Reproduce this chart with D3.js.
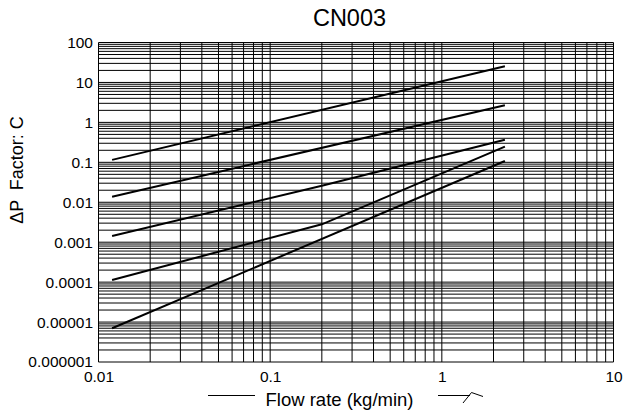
<!DOCTYPE html>
<html>
<head>
<meta charset="utf-8">
<script src="https://cdn.jsdelivr.net/npm/d3@7"></script>
<style>
  html, body { margin: 0; padding: 0; background: #fff; }
  svg { display: block; font-family: "Liberation Sans", Arial, sans-serif; }
</style>
</head>
<body>
<svg id="chart" width="623" height="412"></svg>
<script>
// ---- data ----
const title = "CN003";
const yLabel = "\u0394P  Factor: C";
const xLabel = "Flow rate (kg/min)";
const xTickValues = [0.01, 0.1, 1, 10];
const xTickLabels = ["0.01", "0.1", "1", "10"];
const yTickValues = [100, 10, 1, 0.1, 0.01, 0.001, 0.0001, 0.00001, 0.000001];
const yTickLabels = ["100", "10", "1", "0.1", "0.01", "0.001", "0.0001", "0.00001", "0.000001"];

const series1 = [[0.012, 0.115], [2.33, 25.4]];
const series2 = [[0.012, 0.0138], [2.33, 2.68]];
const series3 = [[0.012, 0.00143], [0.2, 0.026], [2.33, 0.368]];
const series4 = [[0.012, 0.000113], [0.2, 0.0028], [2.33, 0.246]];
const series5 = [[0.012, 0.000007], [2.33, 0.108]];
const allSeries = [series1, series2, series3, series4, series5];

// ---- layout ----
const svg = d3.select("#chart");
const x = d3.scaleLog().domain([0.01, 10]).range([98.5, 613.5]);
const y = d3.scaleLog().domain([0.000001, 100]).range([362, 42.5]);

// grid values: 1..9 multiples of every decade
function gridVals(lo, hi) {
  const out = [];
  for (let e = Math.round(Math.log10(lo)); e < Math.round(Math.log10(hi)); e++) {
    for (let m = 1; m <= 9; m++) out.push(m * Math.pow(10, e));
  }
  out.push(hi);
  return out;
}
const xGrid = gridVals(0.01, 10);
const yGrid = gridVals(0.000001, 100);

const grid = svg.append("g").attr("stroke", "#000").attr("stroke-width", 1);
grid.selectAll("line.v").data(xGrid).join("line").attr("class", "v")
  .attr("x1", d => x(d)).attr("x2", d => x(d))
  .attr("y1", y(100)).attr("y2", y(0.000001));
grid.selectAll("line.h").data(yGrid).join("line").attr("class", "h")
  .attr("x1", x(0.01)).attr("x2", x(10))
  .attr("y1", d => y(d)).attr("y2", d => y(d));

// axes (labels only)
const yAxis = d3.axisLeft(y).tickValues(yTickValues).tickSize(0).tickPadding(5.5)
  .tickFormat((d, i) => yTickLabels[i]);
const gy = svg.append("g").attr("transform", `translate(${x(0.01)},0)`).call(yAxis);
gy.select(".domain").remove();
gy.selectAll("text").attr("font-size", 15.5).attr("fill", "#000")
  .attr("font-family", "Liberation Sans, Arial, sans-serif");

const xAxis = d3.axisBottom(x).tickValues(xTickValues).tickSize(0).tickPadding(9)
  .tickFormat((d, i) => xTickLabels[i]);
const gx = svg.append("g").attr("transform", `translate(0,${y(0.000001)})`).call(xAxis);
gx.select(".domain").remove();
gx.selectAll("text").attr("font-size", 15.5).attr("fill", "#000")
  .attr("font-family", "Liberation Sans, Arial, sans-serif");

// curves
const line = d3.line().x(d => x(d[0])).y(d => y(d[1]));
svg.append("g").selectAll("path").data(allSeries).join("path")
  .attr("d", line).attr("fill", "none").attr("stroke", "#000").attr("stroke-width", 2);

// title
svg.append("text").attr("x", 349.5).attr("y", 26).attr("text-anchor", "middle")
  .attr("font-size", 23.5).text(title);

// y label
svg.append("text").attr("transform", "translate(22.5,170) rotate(-90)")
  .attr("text-anchor", "middle").attr("font-size", 18)
  .style("white-space", "pre").text(yLabel);

// x label with decorations
svg.append("text").attr("x", 339.5).attr("y", 406).attr("text-anchor", "middle")
  .attr("font-size", 18.5).text(xLabel);
const deco = svg.append("g").attr("fill", "none").attr("stroke", "#000").attr("stroke-width", 1);
deco.append("line").attr("x1", 208).attr("x2", 255).attr("y1", 395.5).attr("y2", 395.5);
deco.append("line").attr("x1", 438).attr("x2", 470).attr("y1", 395.5).attr("y2", 395.5);
deco.append("path").attr("d", "M463,403 L471.5,392.5 L483,396.5");
</script>
</body>
</html>
